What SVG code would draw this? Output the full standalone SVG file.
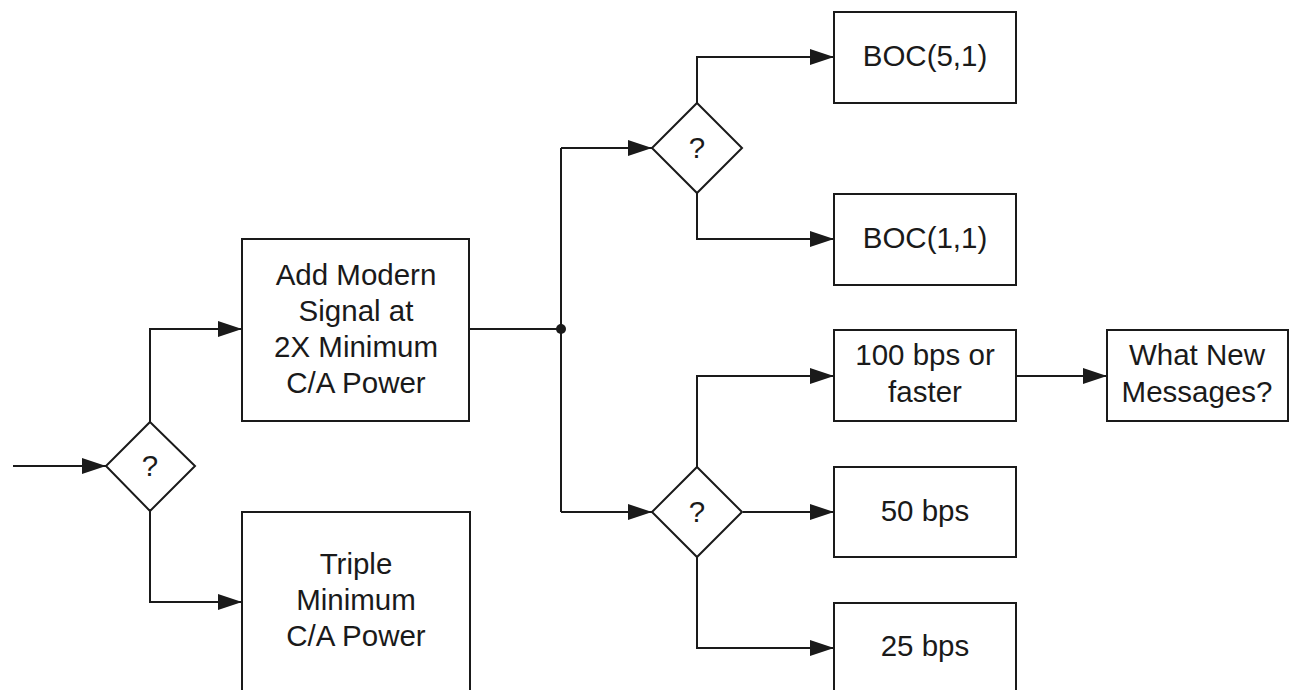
<svg xmlns="http://www.w3.org/2000/svg" width="1290" height="690" viewBox="0 0 1290 690">
<style>
.box{fill:none;stroke:#1a1a1a;stroke-width:2}
.dia{fill:none;stroke:#1a1a1a;stroke-width:2}
.t{font-family:"Liberation Sans",Arial,sans-serif;font-size:29.5px;fill:#1a1a1a;text-anchor:middle}
.c{fill:none;stroke:#1a1a1a;stroke-width:2}
</style>
<defs>
<marker id="ah" viewBox="0 0 24 16" refX="24" refY="8" markerWidth="24" markerHeight="16" markerUnits="userSpaceOnUse" orient="auto">
<path d="M0,0 L24,8 L0,16 z" fill="#1a1a1a"/>
</marker>
</defs>
<rect width="1290" height="690" fill="#ffffff"/>
<g id="connectors">
<path class="c" d="M13,466 H106" marker-end="url(#ah)"/>
<path class="c" d="M150,422 V329 H242" marker-end="url(#ah)"/>
<path class="c" d="M150,511 V602 H242" marker-end="url(#ah)"/>
<path class="c" d="M469,329 H561"/>
<path class="c" d="M561,148 V512"/>
<circle cx="561" cy="329" r="5" fill="#1a1a1a"/>
<path class="c" d="M561,148 H652" marker-end="url(#ah)"/>
<path class="c" d="M561,512 H652" marker-end="url(#ah)"/>
<path class="c" d="M697,103 V57 H834" marker-end="url(#ah)"/>
<path class="c" d="M697,193 V239 H834" marker-end="url(#ah)"/>
<path class="c" d="M697,467 V376 H834" marker-end="url(#ah)"/>
<path class="c" d="M743,512 H834" marker-end="url(#ah)"/>
<path class="c" d="M697,557 V648 H834" marker-end="url(#ah)"/>
<path class="c" d="M1016,376 H1107" marker-end="url(#ah)"/>
</g>
<g id="d1">
<polygon class="dia" points="150,422 195,466 150,511 106,466"/>
<text class="t" x="150" y="476">?</text>
</g>
<g id="modern">
<rect class="box" x="242" y="239" width="227" height="182"/>
<text class="t" x="356" y="285">Add Modern</text>
<text class="t" x="356" y="321">Signal at</text>
<text class="t" x="356" y="357">2X Minimum</text>
<text class="t" x="356" y="393">C/A Power</text>
</g>
<g id="triple">
<rect class="box" x="242" y="512" width="228" height="190"/>
<text class="t" x="356" y="574">Triple</text>
<text class="t" x="356" y="610">Minimum</text>
<text class="t" x="356" y="646">C/A Power</text>
</g>
<g id="d2">
<polygon class="dia" points="697,103 742,148 697,193 652,148"/>
<text class="t" x="697" y="158">?</text>
</g>
<g id="d3">
<polygon class="dia" points="697,467 742,512 697,557 652,512"/>
<text class="t" x="697" y="522">?</text>
</g>
<g id="boc51">
<rect class="box" x="834" y="12" width="182" height="91"/>
<text class="t" x="925" y="66">BOC(5,1)</text>
</g>
<g id="boc11">
<rect class="box" x="834" y="194" width="182" height="91"/>
<text class="t" x="925" y="248">BOC(1,1)</text>
</g>
<g id="bps100">
<rect class="box" x="834" y="330" width="182" height="91"/>
<text class="t" x="925" y="365">100 bps or</text>
<text class="t" x="925" y="402">faster</text>
</g>
<g id="bps50">
<rect class="box" x="834" y="467" width="182" height="90"/>
<text class="t" x="925" y="521">50 bps</text>
</g>
<g id="bps25">
<rect class="box" x="834" y="603" width="182" height="100"/>
<text class="t" x="925" y="656">25 bps</text>
</g>
<g id="msgs">
<rect class="box" x="1107" y="330" width="181" height="91"/>
<text class="t" x="1197" y="365">What New</text>
<text class="t" x="1197" y="402">Messages?</text>
</g>
</svg>
